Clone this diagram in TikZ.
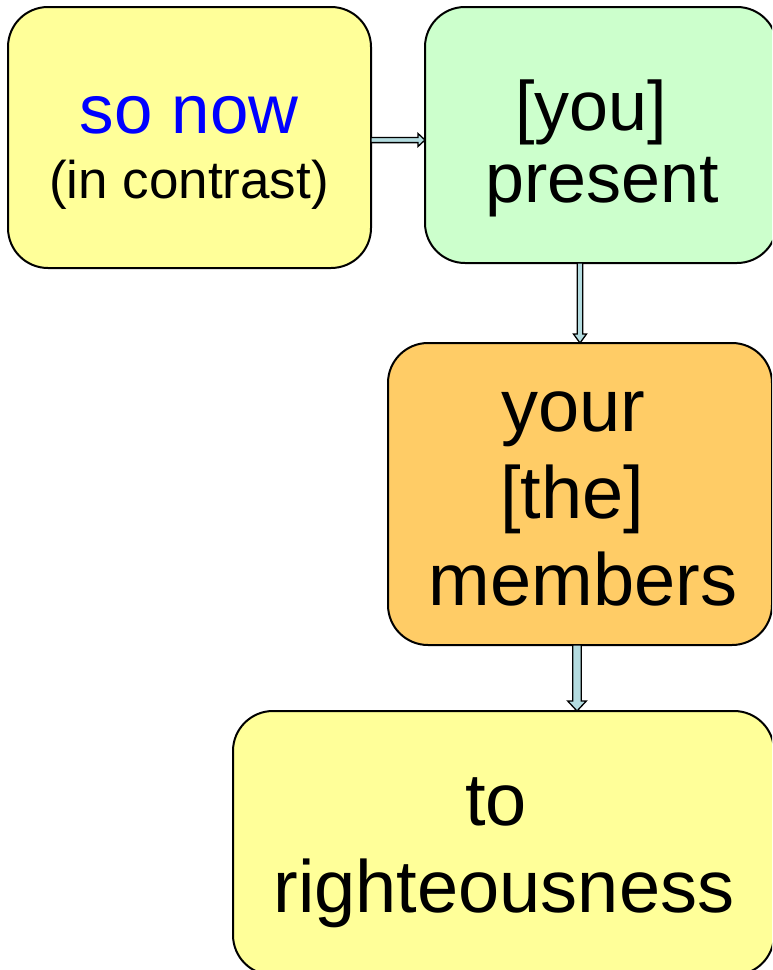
\documentclass[tikz,border=0pt]{standalone}
\usepackage{fontspec}
\setmainfont{Liberation Sans}
\usetikzlibrary{calc}
\definecolor{boxyellow}{RGB}{255,255,153}
\definecolor{boxgreen}{RGB}{204,255,204}
\definecolor{boxorange}{RGB}{255,204,102}
\definecolor{arrowblue}{RGB}{180,220,224}
\definecolor{textblue}{RGB}{0,0,255}
\tikzset{
  card/.style={draw=black, line width=2pt, rounded corners=40pt, inner sep=0pt, outer sep=0pt},
  bigtext/.style={anchor=base, inner sep=0pt, font=\fontsize{74}{85}\selectfont},
  midtext/.style={anchor=base, inner sep=0pt, font=\fontsize{70}{80}\selectfont},
  blockarrow/.style={draw=black, fill=arrowblue, line width=1.3pt, line join=miter}
}
\begin{document}
\begin{tikzpicture}[x=1pt,y=-1pt]
\path[use as bounding box, clip] (0,0) rectangle (772,970);
\fill[white] (0,0) rectangle (772,970);
% boxes
\node[card, fill=boxyellow, minimum width=363pt, minimum height=261pt] (b1) at (189.5,137.5) {};
\node[card, fill=boxgreen, minimum width=352pt, minimum height=256pt] (b2) at (601,135) {};
\node[card, fill=boxorange, minimum width=384pt, minimum height=302pt] (b3) at (580,494) {};
\node[card, fill=boxyellow, minimum width=541pt, minimum height=264pt] (b4) at (503.5,843) {};
% texts
\node[anchor=base, inner sep=0pt, text=textblue, font=\fontsize{69}{80}\selectfont] (t1a) at (189,133) {so now};
\node[anchor=base, inner sep=0pt, font=\fontsize{53}{60}\selectfont] (t1b) at (189,198) {(in contrast)};
\node[midtext] (t2a) at (591,130) {[you]};
\node[midtext] (t2b) at (602,202) {present};
\node[bigtext] (t3a) at (573,431) {your};
\node[bigtext] (t3b) at (572,518) {[the]};
\node[bigtext] (t3c) at (583,605) {members};
\node[bigtext] (t4a) at (496,825) {to};
\node[bigtext] (t4b) at (504,912) {righteousness};
% arrows
\coordinate (a1s) at ($(b1.east)+(0,2.5)$);
\coordinate (a1e) at ($(b2.west)+(0,5)$);
\draw[blockarrow] ($(a1s)+(0,-2.6)$) -- ($(a1e)+(-7,-2.6)$) -- ($(a1e)+(-7,-6.5)$) -- (a1e)
  -- ($(a1e)+(-7,6.5)$) -- ($(a1e)+(-7,2.6)$) -- ($(a1s)+(0,2.6)$) -- cycle;
\coordinate (a2s) at ($(b2.south)+(-21,0)$);
\coordinate (a2e) at (b3.north);
\draw[blockarrow] ($(a2s)+(-2.8,0)$) -- ($(a2e)+(-2.8,-9)$) -- ($(a2e)+(-6.5,-9)$) -- (a2e)
  -- ($(a2e)+(6.5,-9)$) -- ($(a2e)+(2.8,-9)$) -- ($(a2s)+(2.8,0)$) -- cycle;
\coordinate (a3s) at ($(b3.south)+(-3,0)$);
\coordinate (a3e) at ($(b4.north)+(73.5,0)$);
\draw[blockarrow] ($(a3s)+(-4.3,0)$) -- ($(a3e)+(-4.3,-10)$) -- ($(a3e)+(-9.3,-10)$) -- (a3e)
  -- ($(a3e)+(9.3,-10)$) -- ($(a3e)+(4.3,-10)$) -- ($(a3s)+(4.3,0)$) -- cycle;
\end{tikzpicture}
\end{document}
